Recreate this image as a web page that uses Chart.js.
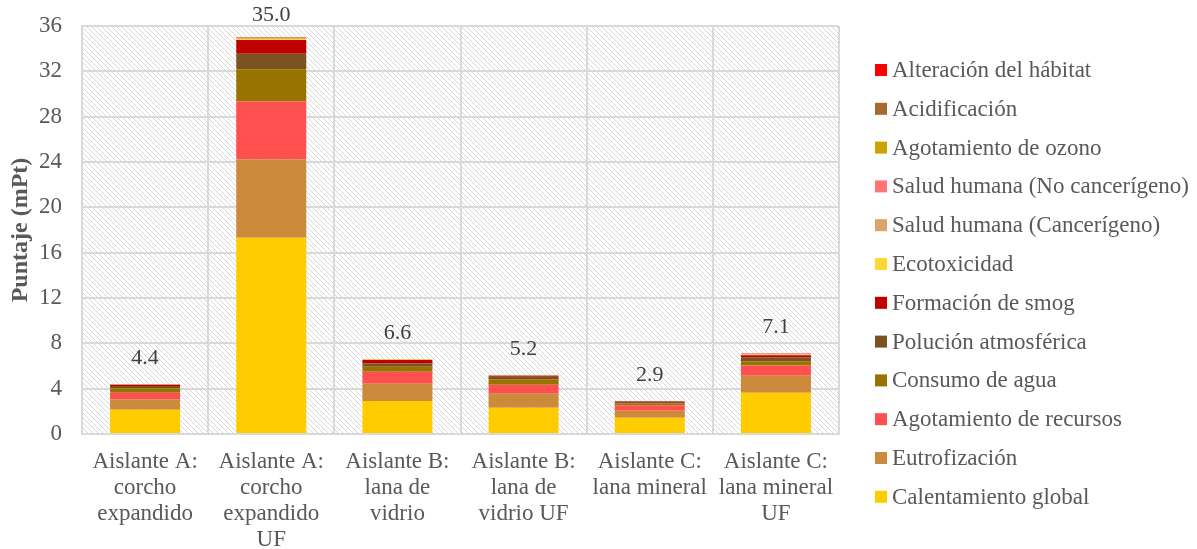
<!DOCTYPE html>
<html>
<head>
<meta charset="utf-8">
<script src="https://cdn.jsdelivr.net/npm/chart.js@4.4.0/dist/chart.umd.min.js"></script>
<style>
  html, body { margin: 0; padding: 0; background: #ffffff; }
  #wrap { width: 1197px; height: 549px; position: relative; }
</style>
</head>
<body>
<div id="wrap"><canvas id="c" width="1197" height="549"></canvas></div>
<script>
// ---- Data ----
const categories = [
  ["Aislante A:", "corcho", "expandido"],
  ["Aislante A:", "corcho", "expandido", "UF"],
  ["Aislante B:", "lana de", "vidrio"],
  ["Aislante B:", "lana de", "vidrio UF"],
  ["Aislante C:", "lana mineral"],
  ["Aislante C:", "lana mineral", "UF"]
];
const seriesNames = [
  "Calentamiento global",
  "Eutrofización",
  "Agotamiento de recursos",
  "Consumo de agua",
  "Polución atmosférica",
  "Formación de smog",
  "Ecotoxicidad",
  "Salud humana (Cancerígeno)",
  "Salud humana (No cancerígeno)",
  "Agotamiento de ozono",
  "Acidificación",
  "Alteración del hábitat"
];
const calentamiento = [2.15, 17.32, 2.91, 2.32, 1.44, 3.63];
const eutrofizacion = [0.91, 6.92, 1.53, 1.24, 0.62, 1.50];
const recursos      = [0.59, 5.09, 1.06, 0.79, 0.47, 0.92];
const consumoAgua   = [0.38, 2.85, 0.44, 0.48, 0.17, 0.38];
const polucion      = [0.20, 1.38, 0.29, 0.23, 0.12, 0.32];
const smog          = [0.12, 1.21, 0.30, 0.08, 0.04, 0.20];
const ecotoxicidad  = [0.02, 0.08, 0.02, 0.02, 0.01, 0.05];
const saludCanc     = [0.01, 0.06, 0.02, 0.01, 0.01, 0.04];
const saludNoCanc   = [0.01, 0.03, 0.01, 0.01, 0.01, 0.03];
const ozono         = [0.005, 0.02, 0.005, 0.005, 0.005, 0.01];
const acidificacion = [0.02, 0.05, 0.03, 0.02, 0.01, 0.03];
const habitat       = [0.005, 0.01, 0.005, 0.005, 0.005, 0.01];
const yTicks = [0, 4, 8, 12, 16, 20, 24, 28, 32, 36];

const seriesValues = [calentamiento, eutrofizacion, recursos, consumoAgua, polucion, smog,
  ecotoxicidad, saludCanc, saludNoCanc, ozono, acidificacion, habitat];
const colors = ["#FFCC00", "#CC8A3D", "#FF5050", "#997300", "#7B5222", "#C00000",
  "#FFD732", "#DBA368", "#FF7575", "#CCA300", "#A86A2C", "#FF0000"];

const FONT = "'Liberation Serif', 'Times New Roman', serif";
const TXT = "#595959";
const FS = 23;

// hatch pattern for the plot background
function makeHatch(ctx) {
  const s = 5;
  const p = document.createElement('canvas');
  p.width = s; p.height = s;
  const g = p.getContext('2d');
  g.fillStyle = '#ffffff'; g.fillRect(0, 0, s, s);
  g.strokeStyle = '#d4d4d4'; g.lineWidth = 0.9;
  g.beginPath();
  g.moveTo(-1, -1); g.lineTo(s + 1, s + 1);
  g.moveTo(-1, s - 1); g.lineTo(1, s + 1);
  g.moveTo(s - 1, -1); g.lineTo(s + 1, 1);
  g.stroke();
  return ctx.createPattern(p, 'repeat');
}

const bgPlugin = {
  id: 'bgHatch',
  beforeDraw(chart) {
    const { ctx, chartArea: a } = chart;
    ctx.save();
    ctx.fillStyle = makeHatch(ctx);
    ctx.fillRect(a.left, a.top, a.right - a.left, a.bottom - a.top);
    ctx.restore();
  }
};

// legend drawn from the chart's own datasets (reverse order)
const legendPlugin = {
  id: 'sideLegend',
  afterDraw(chart) {
    const { ctx } = chart;
    const ds = chart.data.datasets.slice().reverse();
    const x0 = 875, y0 = 70, step = 38.8, box = 12;
    ctx.save();
    ctx.font = FS + "px " + FONT;
    ctx.textBaseline = 'middle';
    ctx.textAlign = 'left';
    ds.forEach((d, i) => {
      const y = y0 + i * step;
      ctx.fillStyle = d.backgroundColor;
      ctx.fillRect(x0, y - box / 2, box, box);
      ctx.fillStyle = TXT;
      ctx.fillText(d.label, x0 + box + 5, y + 1);
    });
    ctx.restore();
  }
};

const totalsPlugin = {
  id: 'totals',
  afterDatasetsDraw(chart) {
    const { ctx } = chart;
    const yScale = chart.scales.y;
    const xScale = chart.scales.x;
    ctx.save();
    ctx.font = "22px " + FONT;
    ctx.fillStyle = "#404040";
    ctx.textAlign = 'center';
    ctx.textBaseline = 'alphabetic';
    categories.forEach((c, i) => {
      let t = 0;
      seriesValues.forEach(s => t += s[i]);
      const x = xScale.getPixelForValue(i);
      let y = yScale.getPixelForValue(t) - 20;
      if (y < 21) y = 21;
      ctx.fillText(t.toFixed(1), x, y);
    });
    ctx.restore();
  }
};

const datasets = seriesNames.map((n, i) => ({
  label: n,
  data: seriesValues[i],
  backgroundColor: colors[i],
  borderWidth: 0,
  barPercentage: 0.555,
  categoryPercentage: 1.0,
  stack: 's'
}));

new Chart(document.getElementById('c'), {
  type: 'bar',
  data: { labels: categories, datasets },
  plugins: [bgPlugin, totalsPlugin, legendPlugin],
  options: {
    responsive: false,
    animation: false,
    layout: { padding: { top: 26, right: 358, bottom: 0, left: 0 } },
    plugins: {
      tooltip: { enabled: false },
      legend: { display: false }
    },
    scales: {
      x: {
        stacked: true,
        afterFit(scale) { scale.height = 115; scale.paddingTop = 0; scale.paddingBottom = 0; },
        grid: { display: true, offset: true, color: '#d9d9d9', lineWidth: 2, drawTicks: false },
        border: { display: true, color: '#d9d9d9', width: 2 },
        ticks: {
          color: TXT, padding: 15, maxRotation: 0, autoSkip: false,
          font: { family: FONT, size: FS, lineHeight: 26 / FS }
        }
      },
      y: {
        stacked: true,
        min: 0, max: 36,
        afterFit(scale) { scale.width = 82; scale.paddingTop = 0; scale.paddingBottom = 0; },
        afterBuildTicks(scale) { scale.ticks = yTicks.map(v => ({ value: v })); },
        grid: { color: '#d9d9d9', lineWidth: 2, drawTicks: false },
        border: { display: true, color: '#d9d9d9', width: 2 },
        ticks: { color: TXT, padding: 20, font: { family: FONT, size: FS } },
        title: {
          display: true, text: 'Puntaje (mPt)', color: TXT,
          font: { family: FONT, size: 24, weight: 'bold', lineHeight: 1.2 }, padding: { top: 6, bottom: 4 }
        }
      }
    }
  }
});
</script>
</body>
</html>
